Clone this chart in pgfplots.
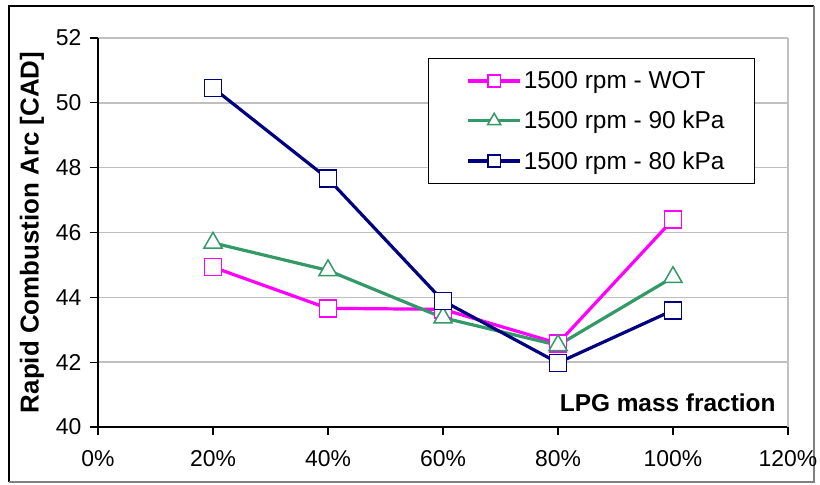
\documentclass[border=0pt]{standalone}
\usepackage{fontspec}
\setmainfont{Liberation Sans}
\usepackage{pgfplots}
\pgfplotsset{compat=1.18}
\definecolor{cpink}{RGB}{255,0,255}
\definecolor{cgreen}{RGB}{51,153,102}
\definecolor{cnavy}{RGB}{0,0,128}
\definecolor{cgrid}{RGB}{192,192,192}
\begin{document}
\begin{tikzpicture}[x=1bp,y=1bp]
\path[use as bounding box] (-98,-58) rectangle (722,427);
\draw[black,line width=1.5bp] (-89,-55) -- (-89,421) -- (716,421);
\draw[gray,line width=1.5bp] (716,421) -- (716,-55) -- (-89,-55);
\begin{axis}[
  at={(0,0)}, anchor=south west,
  scale only axis, width=690bp, height=389bp,
  xmin=0, xmax=120, ymin=40, ymax=52,
  xtick={0,20,...,120},
  xticklabels={0\%,20\%,40\%,60\%,80\%,100\%,120\%},
  ytick={40,42,...,52},
  axis x line*=bottom, axis y line*=left,
  axis line style={black,line width=1.5bp},
  every outer x axis line/.append style={-}, every outer y axis line/.append style={-},
  tick align=outside,
  major tick length=8bp,
  tick style={black,line width=1.2bp},
  ymajorgrids, grid style={cgrid,line width=1.5bp},
  extra x ticks={120}, extra x tick labels={},
  extra x tick style={grid=major, major tick length=0pt, xticklabel=\empty},
  /pgf/number format/assume math mode=true,
  xticklabel style={font=\fontsize{23}{27}\selectfont, yshift=-12bp},
  yticklabel style={font=\fontsize{23}{27}\selectfont, xshift=-5bp},
  ylabel={\bfseries Rapid Combustion Arc [CAD]},
  ylabel style={at={(axis description cs:-0.0957,0.5)}, anchor=center, font=\fontsize{26}{30}\selectfont},
  clip=false,
  legend cell align=left,
  legend style={at={(axis description cs:0.478,0.9486)}, anchor=north west,
    draw=black, line width=1.5bp, fill=white,
    font=\fontsize{24.5}{28}\selectfont,
    inner xsep=28bp, inner ysep=11bp, row sep=17bp,
    /tikz/every even column/.append style={column sep=6bp}},
  legend image code/.code={\path (0bp,0bp); \draw[mark repeat=2,mark phase=2,#1,every mark/.append style={scale=0.72}] plot coordinates {(10bp,0bp)(36bp,0bp)(62bp,0bp)};},
  every axis plot/.append style={line width=3.2bp},
]
\addplot[cpink, mark=square*, mark size=8.5bp, mark options={fill=white,draw=cpink,line width=1.5bp}]
  coordinates {(20,44.93) (40,43.66) (60,43.63) (80,42.58) (100,46.40)};
\addlegendentry{1500 rpm - WOT}
\addplot[cgreen, mark=triangle*, mark size=10.5bp, mark options={fill=white,draw=cgreen,line width=1.5bp}]
  coordinates {(20,45.68) (40,44.83) (60,43.37) (80,42.52) (100,44.62)};
\addlegendentry{1500 rpm - 90 kPa}
\addplot[cnavy, mark=square*, mark size=8.5bp, mark options={fill=white,draw=cnavy,line width=1.5bp}]
  coordinates {(20,50.46) (40,47.66) (60,43.89) (80,41.98) (100,43.60)};
\addlegendentry{1500 rpm - 80 kPa}
\node[anchor=base east, font=\fontsize{24.5}{28}\selectfont\bfseries] at (axis description cs:0.987,0.0386) {LPG mass fraction};
\end{axis}
\end{tikzpicture}
\end{document}
